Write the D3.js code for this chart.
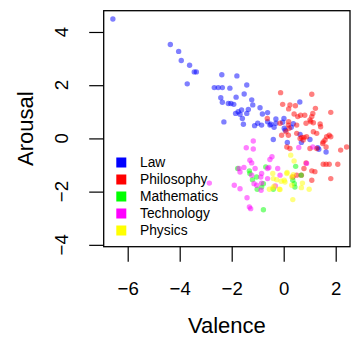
<!DOCTYPE html>
<html>
<head>
<meta charset="utf-8">
<script src="https://cdn.jsdelivr.net/npm/d3@7"></script>
<style>
  body { margin: 0; background: #fff; }
  text { font-family: "Liberation Sans", Arial, Helvetica, sans-serif; fill: #000; }
</style>
</head>
<body>
<div id="chart"></div>
<script>
// categories and legend
var categories = ["Law", "Philosophy", "Mathematics", "Technology", "Physics"];

// [valence, arousal]
var law = [[-6.57,4.49],[-4.36,3.53],[-4.04,3.27],[-3.94,2.93],[-3.62,2.75],[-3.44,2.50],[-3.36,2.50],[-3.71,2.05],
  [-2.38,2.39],[-1.80,2.35],[-2.67,1.91],[-2.52,1.91],[-2.36,1.91],[-2.07,1.89],[-1.42,2.01],[-1.52,1.67],
  [-2.42,1.53],[-1.83,1.55],[-2.36,1.36],[-2.13,1.31],[-2.03,1.31],[-1.92,1.28],[-1.23,1.45],[-1.19,1.26],
  [-0.91,1.15],[-1.36,1.09],[-1.62,1.07],[-1.75,1.00],[-1.85,0.94],[-1.68,0.91],[-1.42,0.94],[-0.82,0.92],
  [-0.62,0.97],[-1.59,0.75],[-2.30,0.62],[-1.55,0.53],[-1.00,0.57],[-0.30,0.73],[0.01,0.75],[-0.53,0.50],
  [-0.37,0.42],[-0.30,0.57],[-0.40,-0.04],[0.14,-0.15],[0.06,0.31],[0.29,0.42],[0.37,0.55],[0.62,1.37],
  [1.31,-0.35],[1.63,-0.51],[0.68,-0.15],[0.63,0.15],[1.01,-0.04],[1.35,-0.41],[-1.12,0.48],[-0.85,0.50],
  [-0.62,0.63],[-0.49,0.53],[-0.04,0.61],[0.02,0.38]];

var philosophy = [[-0.12,1.72],[1.08,1.66],[-0.04,1.28],[0.24,1.26],[0.45,1.23],[0.19,1.11],[1.22,1.13],[1.12,0.94],
  [1.81,0.98],[0.40,0.92],[0.54,0.82],[0.65,0.87],[0.81,0.87],[-0.63,0.75],[1.01,0.69],[1.04,0.63],
  [1.14,0.59],[1.40,0.54],[1.42,0.44],[0.86,0.57],[0.50,0.50],[0.19,0.63],[-0.14,0.57],[0.18,0.50],
  [-0.08,0.12],[0.18,0.12],[0.50,0.19],[0.63,0.00],[0.75,-0.06],[0.88,0.06],[1.14,0.25],[1.27,0.19],
  [1.75,0.12],[1.65,0.06],[1.81,0.06],[1.59,-0.06],[1.52,-0.13],[1.50,-0.19],[0.78,0.04],[0.69,0.04],
  [1.63,-0.32],[1.01,-0.38],[2.19,-0.44],[2.42,-0.32],[0.12,-0.32],[0.24,-0.38],[1.52,-0.97],[1.63,-0.97],
  [1.75,-0.97],[2.08,-0.97],[0.78,-1.13],[1.08,-1.22],[1.20,-1.25],[0.68,-1.38],[1.81,-1.51],[1.08,-1.57],
  [0.50,-1.38],[0.86,-0.92],[0.35,-1.45],[1.08,0.82],[1.27,-0.38],[0.21,0.38],[0.09,0.25]];

var mathematics = [[-1.77,-1.13],[-1.32,-1.22],[-1.30,-1.32],[-0.69,-1.07],[-1.04,-1.45],[-0.78,-1.70],
  [-1.02,-1.91],[-0.85,-1.83],[-0.78,-2.68],[0.46,-1.05],[0.67,-1.38],[0.35,-1.57],[0.41,-1.70],
  [0.43,-1.83],[-0.40,-1.91],[-1.20,-1.55]];

var technology = [[-1.44,-0.35],[-1.17,-0.40],[-1.17,-0.10],[-1.30,-0.82],[-1.23,-0.92],[-1.72,-1.13],[-1.53,-1.09],
  [-1.68,-1.26],[-1.10,-1.13],[-0.53,-0.79],[-0.45,-0.69],[-0.57,-1.09],[-0.85,-1.32],[-0.88,-1.45],
  [-0.14,-1.38],[-1.23,-1.38],[-1.14,-1.70],[-1.04,-1.76],[-0.85,-1.68],[-1.90,-1.76],[-1.68,-1.89],
  [-0.87,-1.95],[-1.41,-2.23],[-1.32,-2.58],[-1.27,-2.64],[-2.86,-1.68],[0.88,-0.94],[-0.62,-1.13],
  [-0.23,-1.13],[-0.62,-1.51],[-0.32,-1.79],[1.12,-0.32],[0.58,-0.34]];

var physics = [[0.27,-0.63],[0.40,-0.85],[-0.40,-1.51],[-0.27,-1.55],[0.12,-1.32],[0.31,-1.45],[0.72,-1.68],
  [0.98,-1.91],[0.35,-2.30],[-0.42,-1.32],[0.13,-1.28],[0.37,-1.36],[-0.10,-1.61],[0.02,-1.57],
  [-0.55,-1.91],[-0.42,-1.86],[-0.17,-1.91],[0.68,-1.85],[-0.37,-1.80],[-0.14,-1.92],[0.05,-1.64],[0.31,-1.76]];

var xTicks = [-6, -4, -2, 0, 2];
var yTicks = [-4, -2, 0, 2, 4];

var series = [law, philosophy, mathematics, technology, physics];
var colors = ["#0000ff", "#ff0000", "#00ff00", "#ff00ff", "#ffff00"];

var W = 351, H = 341;
var margin = { top: 10.7, right: 1, bottom: 94.3, left: 103.7 };
var width = W - margin.left - margin.right;
var height = H - margin.top - margin.bottom;

var svg = d3.select("#chart")
  .append("svg")
  .attr("width", W)
  .attr("height", H)
  .append("g")
  .attr("transform", "translate(" + margin.left + "," + margin.top + ")");

var x = d3.scaleLinear().domain([-6.923, 2.55]).range([0, width]);
var y = d3.scaleLinear().domain([-4.07, 4.80]).range([height, 0]);

// points
series.forEach(function (pts, i) {
  svg.append("g").selectAll("circle")
    .data(pts)
    .join("circle")
    .attr("cx", function (d) { return x(d[0]); })
    .attr("cy", function (d) { return y(d[1]); })
    .attr("r", 2.7)
    .attr("fill", colors[i])
    .attr("fill-opacity", 0.5);
});

// axes
var xAxis = svg.append("g")
  .attr("transform", "translate(0," + height + ")")
  .call(d3.axisBottom(x).tickValues(xTicks).tickSize(15).tickPadding(20)
    .tickFormat(function (d) { return d < 0 ? "\u2212" + Math.abs(d) : d; }));
xAxis.select(".domain").remove();
xAxis.selectAll("line").attr("stroke", "#000").attr("stroke-width", 1.2);
xAxis.selectAll("text").attr("font-size", "18.6px").attr("fill", "#000");

var yAxis = svg.append("g")
  .call(d3.axisLeft(y).tickValues(yTicks).tickSize(14.5).tickFormat(""));
yAxis.select(".domain").remove();
yAxis.selectAll("line").attr("stroke", "#000").attr("stroke-width", 1.2);

svg.append("g").selectAll("text")
  .data(yTicks)
  .join("text")
  .attr("transform", function (d) { return "translate(-35.4," + y(d) + ") rotate(-90)"; })
  .attr("text-anchor", "middle")
  .attr("font-size", "18.6px")
  .text(function (d) { return d < 0 ? "\u2212" + Math.abs(d) : d; });

// box
svg.append("rect")
  .attr("width", width)
  .attr("height", height)
  .attr("fill", "none")
  .attr("stroke", "#000")
  .attr("stroke-width", 1.3);

// axis titles
svg.append("text")
  .attr("x", width / 2)
  .attr("y", 333 - margin.top)
  .attr("text-anchor", "middle")
  .attr("font-size", "22px")
  .text("Valence");

svg.append("text")
  .attr("transform", "translate(" + (33 - margin.left) + "," + (height / 2) + ") rotate(-90)")
  .attr("text-anchor", "middle")
  .attr("font-size", "22px")
  .text("Arousal");

// legend
var legend = svg.append("g").selectAll("g")
  .data(categories)
  .join("g")
  .attr("transform", function (d, i) { return "translate(0," + (162.5 - margin.top + i * 17) + ")"; });

legend.append("rect")
  .attr("x", 116.3 - margin.left)
  .attr("y", -5)
  .attr("width", 10)
  .attr("height", 10)
  .attr("fill", function (d, i) { return colors[i]; });

legend.append("text")
  .attr("x", 140 - margin.left)
  .attr("dy", "0.36em")
  .attr("font-size", "13.8px")
  .text(function (d) { return d; });
</script>
</body>
</html>
